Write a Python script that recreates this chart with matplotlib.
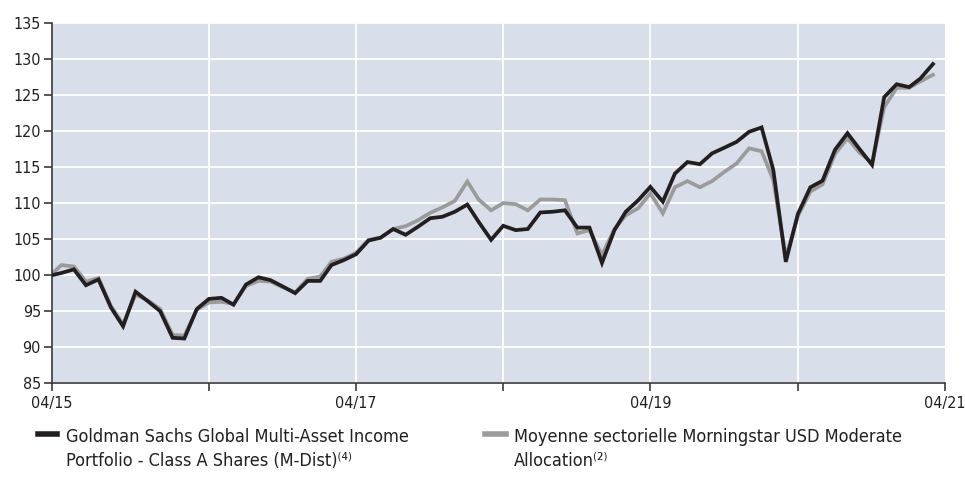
import numpy as np
import pandas as pd
import matplotlib
matplotlib.use("Agg")
import matplotlib.pyplot as plt
from matplotlib.lines import Line2D
from matplotlib import font_manager

# dates: launch point, then month ends
dates = pd.to_datetime(["2015-04-07"]).append(
    pd.date_range("2015-04-30", "2021-03-31", freq="ME"))

# Goldman Sachs Global Multi-Asset Income Portfolio - Class A (M-Dist)
fund = [100.0, 100.3, 100.8, 98.6, 99.4, 95.5, 92.9, 97.7, 96.4, 95.0, 91.3, 91.2,
        95.3, 96.7, 96.85, 95.9, 98.7, 99.7, 99.3, 98.4, 97.5, 99.2, 99.2, 101.4,
        102.1, 102.9, 104.8, 105.2, 106.4, 105.6, 106.7, 107.9, 108.1, 108.8, 109.8, 107.4,
        104.9, 106.85, 106.25, 106.4, 108.7, 108.8, 109.0, 106.6, 106.6, 101.7, 106.25, 108.8,
        110.4, 112.25, 110.2, 114.1, 115.7, 115.4, 116.9, 117.7, 118.5, 119.9, 120.5, 114.6,
        101.85, 108.5, 112.2, 113.1, 117.4, 119.7, 117.5, 115.3, 124.7, 126.5, 126.1, 127.3,
        129.3]

# Morningstar USD Moderate Allocation sector average
sector = [100.2, 101.4, 101.2, 99.1, 99.6, 95.7, 93.2, 97.3, 96.5, 95.3, 91.7, 91.6,
          95.2, 96.2, 96.3, 96.0, 98.5, 99.2, 99.1, 98.3, 97.6, 99.5, 99.8, 101.85,
          102.3, 103.1, 104.9, 105.2, 106.4, 106.8, 107.6, 108.65, 109.4, 110.3, 113.0, 110.5,
          109.0, 110.0, 109.85, 109.0, 110.5, 110.5, 110.4, 105.8, 106.25, 102.8, 106.4, 108.3,
          109.3, 111.35, 108.6, 112.2, 113.05, 112.2, 113.05, 114.35, 115.5, 117.6, 117.2, 113.2,
          102.5, 108.2, 111.6, 112.6, 116.8, 119.0, 117.0, 115.6, 123.3, 126.0, 126.0, 126.9,
          127.8]

fund_label = "Goldman Sachs Global Multi-Asset Income\nPortfolio - Class A Shares (M-Dist)\u207d\u2074\u207e"
sector_label = "Moyenne sectorielle Morningstar USD Moderate\nAllocation\u207d\u00b2\u207e"

x_start = pd.Timestamp("2015-04-07")
x_end = pd.Timestamp("2021-04-30")
year_lines = pd.to_datetime(["2016-04-30", "2017-04-30", "2018-04-30",
                             "2019-04-30", "2020-04-30"])
tick_pos = [x_start] + list(year_lines) + [x_end]
tick_lab = ["04/15", "", "04/17", "", "04/19", "", "04/21"]
yticks = np.arange(85, 136, 5)

# look for a narrow / condensed face, the original uses one
narrow = None
for f in font_manager.fontManager.ttflist:
    if ("Narrow" in f.name or "Condensed" in f.name or f.stretch == "condensed") \
            and f.style == "normal":
        narrow = f
        break
if narrow is not None:
    plt.rcParams['font.family'] = [narrow.name, 'DejaVu Sans']
    stretch = narrow.stretch
    tsize, lsize = 11.5, 13
else:
    plt.rcParams['font.family'] = ['Roboto', 'DejaVu Sans']
    stretch = "normal"
    tsize, lsize = 11, 11.5
plt.rcParams['font.stretch'] = stretch

BLACK = "#231f20"
GREY = "#9b9b9b"
BG = "#d9dfea"

fig = plt.figure(figsize=(9.65, 4.79), dpi=100)
ax = fig.add_axes([0.054, 0.2, 0.9253, 0.752])
ax.set_facecolor(BG)

for yv in yticks:
    ax.axhline(yv, color="white", lw=1.3, zorder=1)
for xv in year_lines:
    ax.axvline(xv, color="white", lw=1.3, zorder=1)

ax.plot(dates, sector, color=GREY, lw=2.7, zorder=2, solid_joinstyle="miter")
ax.plot(dates, fund, color=BLACK, lw=2.7, zorder=3, solid_joinstyle="miter")

ax.set_xlim(x_start, x_end)
ax.set_ylim(85, 135)
ax.set_yticks(yticks)
ax.set_xticks(tick_pos)
ax.set_xticklabels(tick_lab)

for s in ["top", "right"]:
    ax.spines[s].set_visible(False)
for s in ["left", "bottom"]:
    ax.spines[s].set_color("#3a3a3a")
    ax.spines[s].set_linewidth(1.2)
ax.tick_params(axis="both", colors="#3a3a3a", labelcolor=BLACK, labelsize=tsize,
               length=6, width=1.2, direction="out")
ax.tick_params(axis="y", pad=2)
ax.tick_params(axis="x", pad=3)

# legend drawn by hand under the plot
fig.add_artist(Line2D([0.039, 0.059], [0.094, 0.094], color=BLACK, lw=4,
                      transform=fig.transFigure))
fig.text(0.068, 0.107, fund_label, fontsize=lsize, color=BLACK, va="top",
         linespacing=1.45)
fig.add_artist(Line2D([0.503, 0.524], [0.094, 0.094], color=GREY, lw=4,
                      transform=fig.transFigure))
fig.text(0.533, 0.107, sector_label, fontsize=lsize, color=BLACK, va="top",
         linespacing=1.45)

fig.savefig("out.png", dpi=100)
